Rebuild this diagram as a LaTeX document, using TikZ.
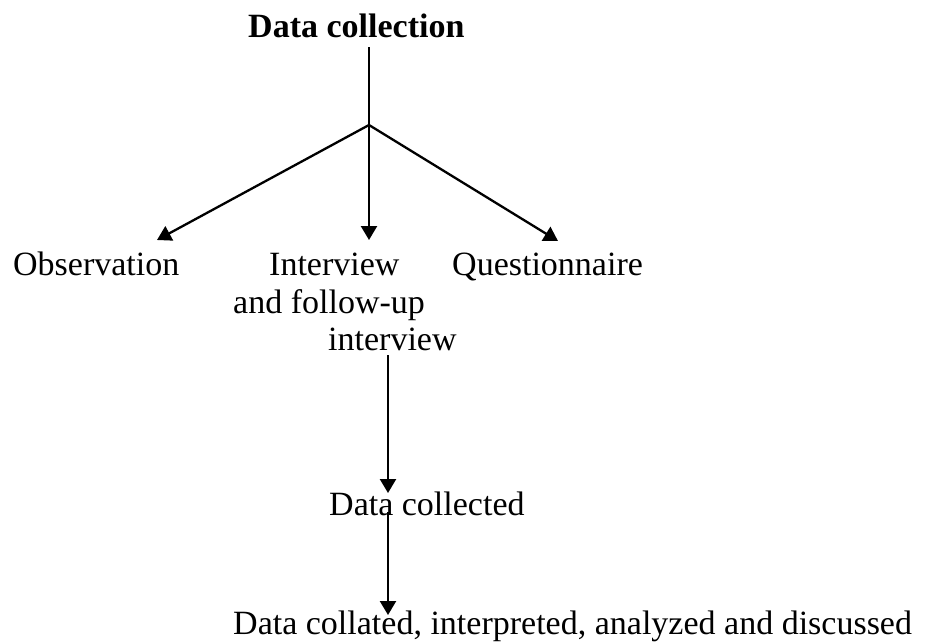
\documentclass[tikz,border=0pt]{standalone}
\usepackage{fontspec}
\setmainfont{Liberation Serif}
\usetikzlibrary{arrows.meta}

\begin{document}
\begin{tikzpicture}[x=1pt,y=-1pt,>={Triangle[length=14pt,width=16pt]},
  every node/.style={font=\fontsize{34}{38}\selectfont,inner sep=0pt,anchor=base west},
  flow/.style={->,line width=2.3pt}]
  \useasboundingbox (0,0) rectangle (931,641);
  % Define nodes
  \node[font=\fontsize{34}{38}\selectfont\bfseries] (title) at (248,37) {Data collection};
  \node (obs) at (13,275) {Observation};
  \node (int1) at (269,275) {Interview};
  \node (int2) at (233,313) {and follow-up};
  \node (int3) at (328,350) {interview};
  \node (quest) at (452,275) {Questionnaire};
  \node (coll) at (329,515) {Data collected};
  \node (disc) at (233,634) {Data collated, interpreted, analyzed and discussed};

  % Connector ends
  \coordinate (top) at (369,47);
  \coordinate (split) at (369,125);
  \coordinate (obsTip) at (157,240);
  \coordinate (intTip) at (369,240);
  \coordinate (questTip) at (558,241);
  \coordinate (intOut) at (388,355);
  \coordinate (collIn) at (388,493);
  \coordinate (collOut) at (388,512);
  \coordinate (discIn) at (388,615);

  % Draw edges
  \draw[line width=1.5pt] (top) -- (split);
  \draw[flow] (split) -- (obsTip);
  \draw[flow] (split) -- (intTip);
  \draw[flow] (split) -- (questTip);
  \draw[flow] (intOut) -- (collIn);
  \draw[flow] (collOut) -- (discIn);
\end{tikzpicture}
\end{document}
